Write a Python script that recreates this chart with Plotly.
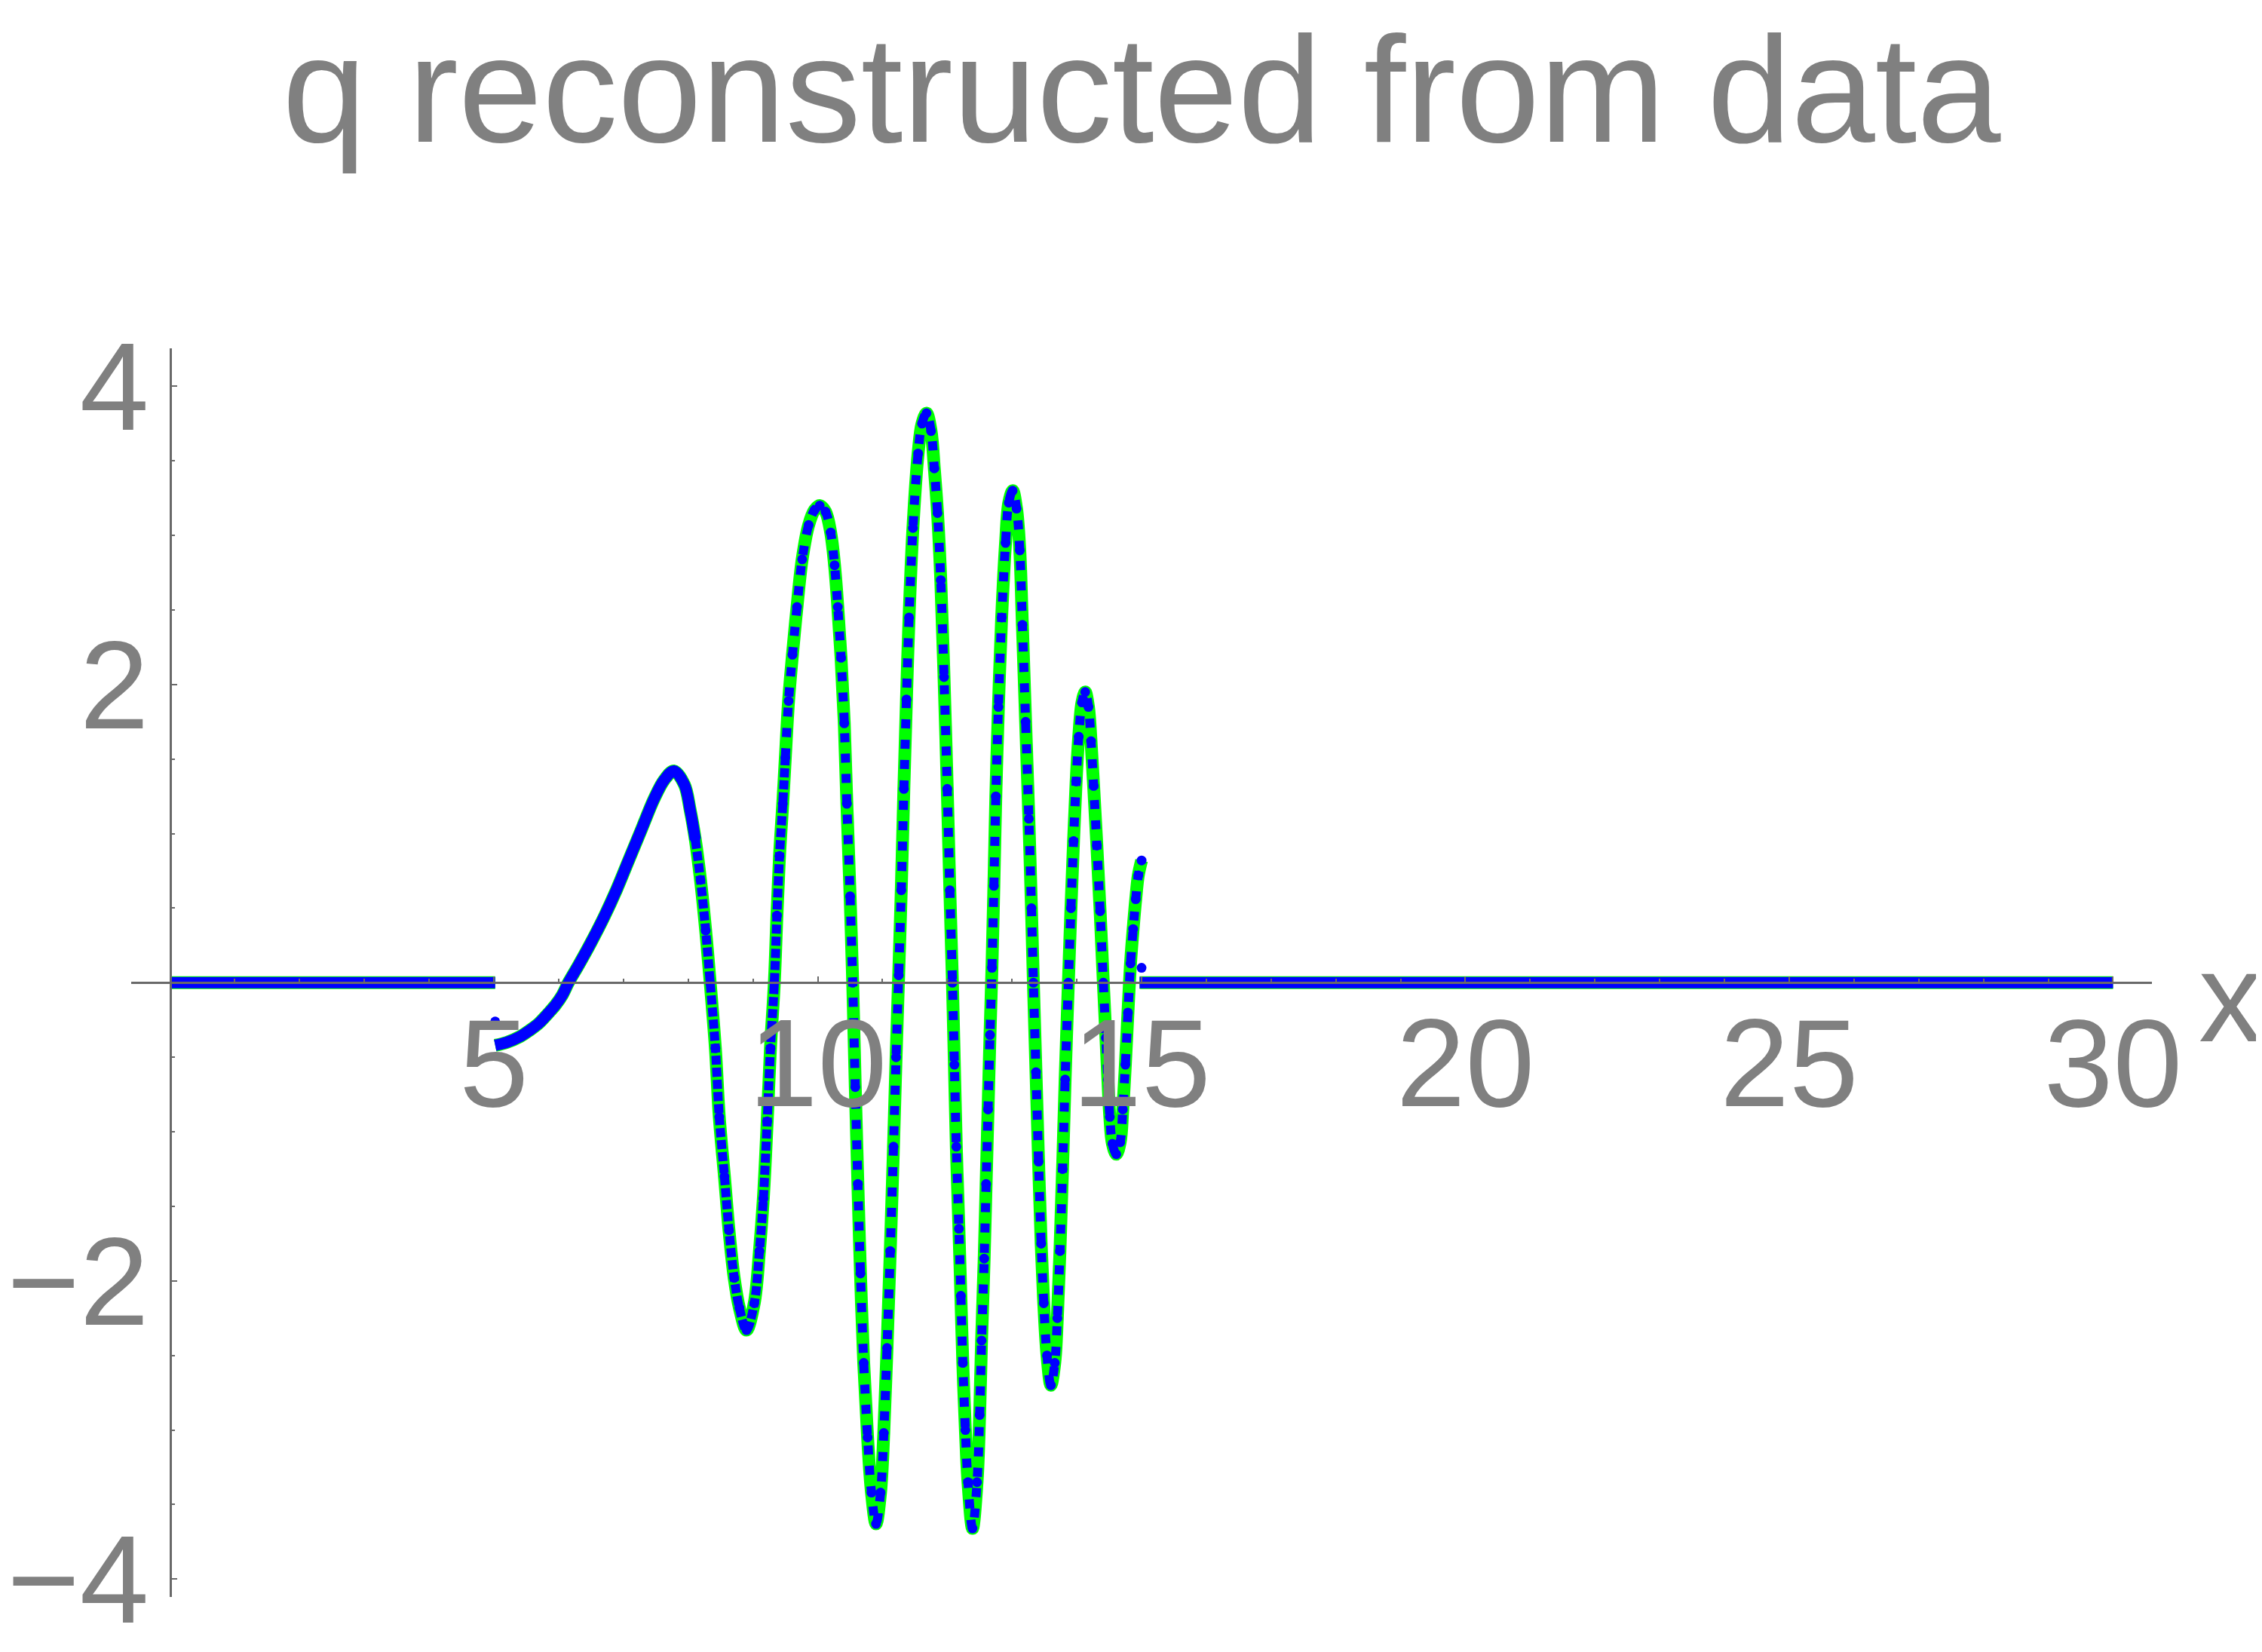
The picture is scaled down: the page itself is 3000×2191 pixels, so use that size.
import plotly.graph_objects as go

TITLE = "q reconstructed from data"

# flat parts of the signal and the two stray samples
X_LEFT = [0.0, 5.02]
Q_LEFT = [0.0, 0.0]
X_RIGHT = [14.97, 30.0]
Q_RIGHT = [0.0, 0.0]
X_STRAY = [5.02, 15.0]
Q_STRAY = [-0.26, 0.10]

# reconstructed wave packet
X_WAVE = [
    5.02, 5.20, 5.41, 5.55, 5.70, 5.84, 5.95, 6.06, 6.15, 6.31,
    6.50, 6.70, 6.89, 7.08, 7.28, 7.47, 7.63, 7.78, 7.94, 8.03,
    8.11, 8.19, 8.27, 8.34, 8.42, 8.48, 8.56, 8.63, 8.71, 8.79,
    8.90, 9.02, 9.10, 9.16, 9.22, 9.27, 9.33, 9.37, 9.41, 9.46,
    9.50, 9.55, 9.61, 9.68, 9.76, 9.86, 9.95, 10.03, 10.12, 10.20,
    10.26, 10.31, 10.36, 10.41, 10.45, 10.50, 10.54, 10.58, 10.62, 10.66,
    10.71, 10.77, 10.83, 10.90, 10.97, 11.02, 11.07, 11.12, 11.17, 11.21,
    11.25, 11.29, 11.33, 11.37, 11.41, 11.47, 11.55, 11.61, 11.68, 11.75,
    11.80, 11.85, 11.90, 11.95, 12.00, 12.04, 12.08, 12.11, 12.14, 12.18,
    12.21, 12.24, 12.28, 12.32, 12.39, 12.46, 12.50, 12.53, 12.57, 12.60,
    12.63, 12.66, 12.69, 12.72, 12.75, 12.79, 12.84, 12.90, 12.95, 13.01,
    13.07, 13.12, 13.16, 13.21, 13.26, 13.30, 13.33, 13.37, 13.41, 13.45,
    13.49, 13.54, 13.60, 13.66, 13.70, 13.74, 13.78, 13.82, 13.87, 13.91,
    13.95, 13.99, 14.03, 14.08, 14.13, 14.18, 14.22, 14.26, 14.31, 14.36,
    14.41, 14.45, 14.48, 14.51, 14.55, 14.61, 14.67, 14.71, 14.75, 14.79,
    14.83, 14.87, 14.91, 14.95, 15.00,
]
Q_WAVE = [
    -0.42, -0.40, -0.36, -0.32, -0.27, -0.205, -0.15, -0.08, 0.00, 0.12,
    0.27, 0.44, 0.62, 0.82, 1.03, 1.23, 1.36, 1.42, 1.33, 1.16,
    0.96, 0.69, 0.35, 0.00, -0.44, -0.90, -1.30, -1.66, -1.98, -2.18,
    -2.33, -2.15, -1.80, -1.45, -0.93, -0.44, 0.00, 0.45, 0.85, 1.20,
    1.51, 1.89, 2.20, 2.52, 2.84, 3.07, 3.17, 3.20, 3.16, 3.02,
    2.80, 2.52, 2.18, 1.74, 1.20, 0.58, 0.00, -0.70, -1.35, -1.95,
    -2.55, -3.05, -3.42, -3.63, -3.42, -3.02, -2.45, -1.80, -1.10, -0.50,
    0.05, 0.62, 1.30, 1.90, 2.45, 3.05, 3.55, 3.75, 3.82, 3.70,
    3.45, 3.15, 2.70, 2.05, 1.30, 0.62, 0.00, -0.55, -1.10, -1.65,
    -2.10, -2.55, -3.00, -3.35, -3.66, -3.35, -2.90, -2.40, -1.85, -1.35,
    -0.85, -0.35, 0.10, 0.65, 1.25, 1.85, 2.45, 2.95, 3.22, 3.30,
    3.18, 2.90, 2.40, 1.75, 1.10, 0.50, 0.00, -0.60, -1.20, -1.75,
    -2.15, -2.50, -2.70, -2.55, -2.25, -1.80, -1.25, -0.65, 0.00, 0.50,
    0.95, 1.35, 1.65, 1.88, 1.95, 1.85, 1.62, 1.32, 0.92, 0.48,
    0.00, -0.37, -0.65, -0.90, -1.08, -1.15, -1.07, -0.85, -0.55, -0.20,
    0.13, 0.36, 0.56, 0.72, 0.82,
]

X_TICKS = [5, 10, 15, 20, 25, 30]
Y_TICKS = [-4, -2, 2, 4]
Y_TICK_TEXT = ["\u22124", "\u22122", "2", "4"]

GREEN = "rgb(0,255,0)"
BLUE = "rgb(0,0,255)"
GREY = "rgb(128,128,128)"
AXIS = "rgb(105,105,105)"
FONT = "Liberation Sans, Arial, sans-serif"

X_RANGE = [-0.6, 30.6]
Y_RANGE = [-4.12, 4.255]

W, H = 3000, 2191
M_L, M_R, M_T, M_B = 166, 154, 454, 81


def joined(*parts):
    xs, ys = [], []
    for px, py in parts:
        if xs:
            xs.append(None)
            ys.append(None)
        xs.extend(px)
        ys.extend(py)
    return xs, ys


def pick(lo, hi):
    idx = [i for i, x in enumerate(X_WAVE) if lo <= x <= hi]
    return [X_WAVE[i] for i in idx], [Q_WAVE[i] for i in idx]


slow = pick(0, 8.11)
mid = pick(8.11, 9.50)
fast = pick(9.50, 99)
dotted = pick(8.11, 99)

fig = go.Figure()

gx, gy = joined((X_LEFT, Q_LEFT), (X_WAVE, Q_WAVE), (X_RIGHT, Q_RIGHT))
fig.add_trace(go.Scatter(
    x=gx, y=gy, mode="lines", line=dict(color=GREEN, width=17, shape="spline"),
    connectgaps=False, hoverinfo="skip",
))

bx, by = joined((X_LEFT, Q_LEFT), slow, (X_RIGHT, Q_RIGHT))
fig.add_trace(go.Scatter(
    x=bx, y=by, mode="lines", line=dict(color=BLUE, width=15, shape="spline"),
    connectgaps=False, hoverinfo="skip",
))
fig.add_trace(go.Scatter(
    x=mid[0], y=mid[1], mode="lines",
    line=dict(color=BLUE, width=12, shape="spline", dash="12px,4px"),
    hoverinfo="skip",
))
fig.add_trace(go.Scatter(
    x=fast[0], y=fast[1], mode="lines",
    line=dict(color=BLUE, width=12, shape="spline", dash="12px,15px"),
    hoverinfo="skip",
))
fig.add_trace(go.Scatter(
    x=dotted[0] + X_STRAY, y=dotted[1] + Q_STRAY, mode="markers",
    marker=dict(color=BLUE, size=13, line=dict(width=0)),
    hoverinfo="skip",
))

axis_common = dict(
    showline=True, linecolor=AXIS, linewidth=3,
    ticks="inside", ticklen=7, tickwidth=2, tickcolor=AXIS,
    showgrid=False, zeroline=False, anchor="free", automargin=False,
    tickfont=dict(family=FONT, size=165, color=GREY),
)

plot_w = W - M_L - M_R
plot_h = H - M_T - M_B

fig.update_layout(
    template="none",
    width=W, height=H,
    margin=dict(l=M_L, r=M_R, t=M_T, b=M_B, autoexpand=False),
    paper_bgcolor="white", plot_bgcolor="white",
    showlegend=False,
    title=dict(
        text=TITLE, x=0.5, xref="paper", xanchor="center",
        y=1 - 110 / H, yref="container", yanchor="middle",
        font=dict(family=FONT, size=200, color=GREY),
    ),
    xaxis=dict(
        range=X_RANGE,
        position=(0 - Y_RANGE[0]) / (Y_RANGE[1] - Y_RANGE[0]),
        tickmode="array", tickvals=X_TICKS,
        minor=dict(ticks="inside", ticklen=4, tickwidth=2, tickcolor=AXIS,
                   dtick=1, tick0=0, showgrid=False),
        ticklabelstandoff=-36,
        **axis_common,
    ),
    yaxis=dict(
        range=Y_RANGE,
        position=(0 - X_RANGE[0]) / (X_RANGE[1] - X_RANGE[0]),
        tickmode="array", tickvals=Y_TICKS, ticktext=Y_TICK_TEXT,
        minor=dict(ticks="inside", ticklen=4, tickwidth=2, tickcolor=AXIS,
                   dtick=0.5, tick0=0, showgrid=False),
        ticklabelstandoff=-6,
        **axis_common,
    ),
    annotations=[dict(
        text="x", xref="paper", yref="paper",
        x=(2950 - M_L) / plot_w, y=(H - M_B - 1315) / plot_h,
        xanchor="center", yanchor="middle", showarrow=False,
        font=dict(family=FONT, size=168, color=GREY),
    )],
)

fig.write_html("out.html")
